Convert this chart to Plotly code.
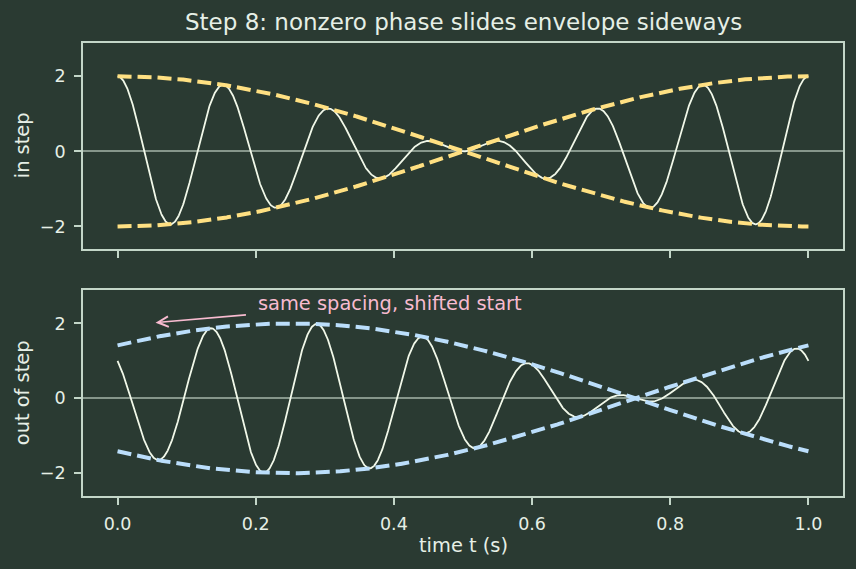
import numpy as np
import plotly.graph_objects as go
from plotly.subplots import make_subplots

# ---- data ----
component_freqs_hz = [6.0, 7.0]          # two tones, 1 Hz apart (beat = 1 Hz, carrier 6.5 Hz)
phases_in_step = [0.0, 0.0]              # both start in phase
phases_out_of_step = [np.pi / 2, 0.0]    # 6 Hz tone shifted by +90°
t_range = [0.0, 1.0]
n_samples = 1500
y_ticks = [-2, 0, 2]
x_ticks = [0.0, 0.2, 0.4, 0.6, 0.8, 1.0]
panel_labels = ["in step", "out of step"]
title_text = "Step 8: nonzero phase slides envelope sideways"
x_label = "time t (s)"
note_text = "same spacing, shifted start"
note_head = [0.055, 2.02]
note_tail = [0.188, 2.23]
note_text_pos = [0.2, 2.53]

BG = "#2a3a32"
FRAME = "#c3d6c8"
TXT = "#e6efe6"
SIG = "#f1f8e9"
ENV_COLORS = ["#ffe082", "#bbdefb"]
ZERO = "#86968b"
NOTE = "#f8bbd0"
FONT = "DejaVu Sans"

t = np.linspace(t_range[0], t_range[1], n_samples)


def two_tone(phases):
    (f1, f2), (p1, p2) = component_freqs_hz, phases
    sig = np.cos(2 * np.pi * f1 * t + p1) + np.cos(2 * np.pi * f2 * t + p2)
    env = 2 * np.cos(np.pi * (f1 - f2) * t + (p1 - p2) / 2)
    return sig, env


fig = make_subplots(rows=2, cols=1, shared_xaxes=True)

for row, phases in enumerate([phases_in_step, phases_out_of_step], start=1):
    sig, env = two_tone(phases)
    fig.add_trace(go.Scatter(x=t, y=sig, mode="lines",
                             line=dict(color=SIG, width=1.8), showlegend=False,
                             hoverinfo="skip"), row=row, col=1)
    for sgn in (1, -1):
        fig.add_trace(go.Scatter(x=t, y=sgn * env, mode="lines",
                                 line=dict(color=ENV_COLORS[row - 1], width=4,
                                           dash="14px,6px"),
                                 showlegend=False, hoverinfo="skip"),
                      row=row, col=1)

W, H = 856, 569
x_dom = [83 / W, 843 / W]
top_dom = [1 - 249 / H, 1 - 42.5 / H]
bot_dom = [1 - 495.7 / H, 1 - 289.7 / H]

axis_common = dict(showline=True, mirror=True, linecolor=FRAME, linewidth=1.8,
                   ticks="outside", ticklen=7, tickwidth=1.8, tickcolor=FRAME,
                   showgrid=False, tickfont=dict(family=FONT, size=17.5, color=TXT))

fig.update_xaxes(**axis_common, range=[-0.05, 1.05], tickvals=x_ticks,
                 tickformat=".1f", zeroline=False, domain=x_dom)
fig.update_xaxes(showticklabels=False, row=1, col=1)
fig.update_yaxes(**axis_common, range=[-2.6, 2.9], tickvals=y_ticks,
                 zeroline=True, zerolinecolor=ZERO, zerolinewidth=1.5,
                 ticklabelstandoff=5)
fig.update_xaxes(ticklabelstandoff=4)
fig.update_yaxes(domain=top_dom, row=1, col=1)
fig.update_yaxes(domain=bot_dom, row=2, col=1)

annotations = [
    dict(text=title_text, x=(x_dom[0] + x_dom[1]) / 2, y=1 - 22 / H,
         xref="paper", yref="paper", showarrow=False, xanchor="center",
         yanchor="middle", font=dict(family=FONT, size=23, color=TXT)),
    dict(text=x_label, x=(x_dom[0] + x_dom[1]) / 2, y=1 - 545 / H,
         xref="paper", yref="paper", showarrow=False, xanchor="center",
         yanchor="middle", font=dict(family=FONT, size=19.4, color=TXT)),
    dict(text=panel_labels[0], x=22.5 / W, y=(top_dom[0] + top_dom[1]) / 2,
         xref="paper", yref="paper", showarrow=False, textangle=-90,
         xanchor="center", yanchor="middle",
         font=dict(family=FONT, size=19.4, color=TXT)),
    dict(text=panel_labels[1], x=22.5 / W, y=(bot_dom[0] + bot_dom[1]) / 2,
         xref="paper", yref="paper", showarrow=False, textangle=-90,
         xanchor="center", yanchor="middle",
         font=dict(family=FONT, size=19.4, color=TXT)),
    dict(text=note_text, x=note_text_pos[0], y=note_text_pos[1], xref="x2", yref="y2",
         showarrow=False, xanchor="left", yanchor="middle",
         font=dict(family=FONT, size=19.4, color=NOTE)),
    dict(text="", x=note_head[0], y=note_head[1], xref="x2", yref="y2",
         ax=note_tail[0], ay=note_tail[1], axref="x2", ayref="y2",
         showarrow=True, arrowhead=5, arrowsize=1.3, arrowwidth=1.6,
         arrowcolor=NOTE, standoff=0, startstandoff=0),
]

fig.update_layout(width=W, height=H, margin=dict(l=0, r=0, t=0, b=0),
                  paper_bgcolor=BG, plot_bgcolor=BG, annotations=annotations,
                  font=dict(family=FONT, color=TXT))

fig.write_html("out.html")
